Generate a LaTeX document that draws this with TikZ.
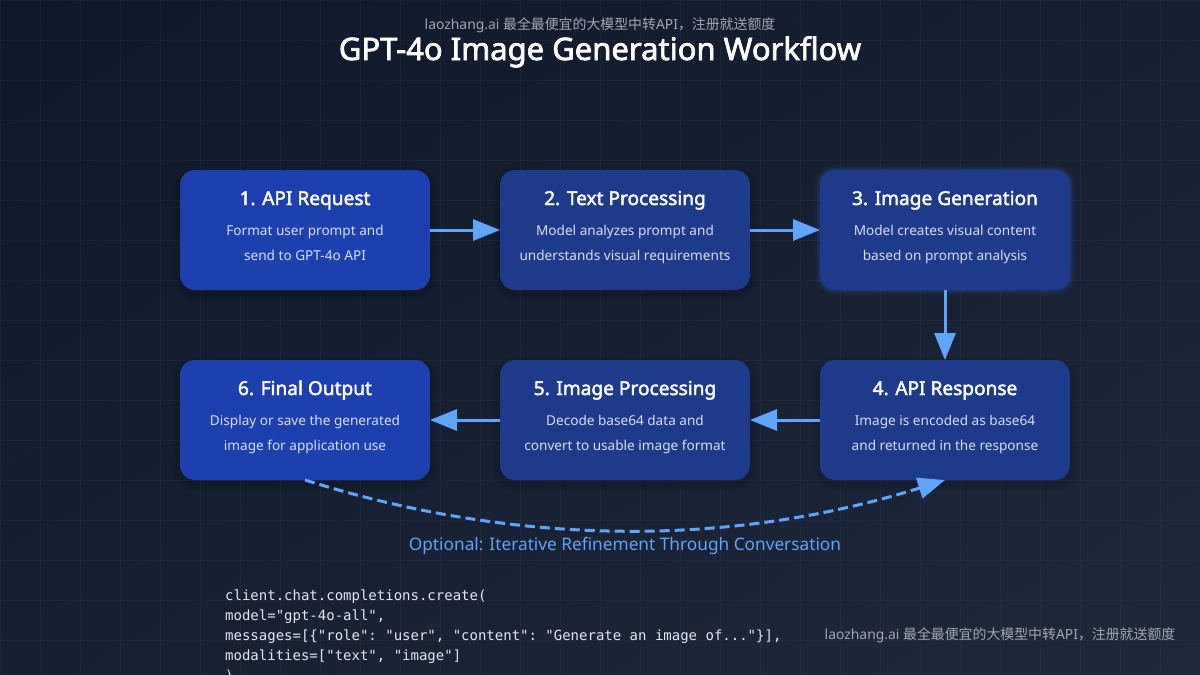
\documentclass[tikz,border=0pt]{standalone}
\usepackage{fontspec}
\setmainfont{Noto Sans}
\setmonofont{DejaVu Sans Mono}
\newfontfamily\cjk{Noto Sans CJK SC}
\newfontfamily\headfont{Noto Sans}[FakeBold=2.2]
\usetikzlibrary{arrows.meta,shadings}
\definecolor{bgdark}{HTML}{0F172A}
\definecolor{bgmid}{HTML}{172033}
\definecolor{bglight}{HTML}{1E293B}
\definecolor{stepbright}{HTML}{1E40AF}
\definecolor{stepdeep}{HTML}{1E3A8A}
\definecolor{flowblue}{HTML}{60A5FA}
\definecolor{glowblue}{HTML}{3B82F6}
\definecolor{desctext}{HTML}{D6E0F2}
\definecolor{codetext}{HTML}{E2E8F0}
\definecolor{greytext}{HTML}{A3A9B3}
\newcommand{\promotext}{laozhang.ai {\cjk 最全最便宜的大模型中转}API{\cjk ，注册就送额度}}
\tikzset{
	softshadow/.style={
		preaction={draw=black,opacity=.05,line width=14pt,transform canvas={yshift=-4pt}},
		preaction={draw=black,opacity=.05,line width=9pt,transform canvas={yshift=-4pt}},
		preaction={draw=black,opacity=.06,line width=4pt,transform canvas={yshift=-4pt}}},
	softglow/.style={
		preaction={draw=glowblue,opacity=.04,line width=11pt},
		preaction={draw=glowblue,opacity=.06,line width=7pt},
		preaction={draw=glowblue,opacity=.10,line width=3pt}},
	stepbox/.style={rectangle,rounded corners=15pt,minimum width=250pt,minimum height=120pt,inner sep=0pt,outer sep=0pt},
	steptitle/.style={anchor=base,text=white,font=\fontsize{19.1}{24}\headfont},
	stepdesc/.style={anchor=base,text=desctext,font=\fontsize{13.6}{16}\selectfont},
	flow/.style={draw=flowblue,line width=3pt,-{Triangle[length=27pt,width=21pt]}},
	promo/.style={text=greytext,font=\fontsize{13.9}{16}\selectfont},
	codeline/.style={anchor=base west,inner sep=0pt,text=codetext,font=\fontsize{14}{20}\ttfamily}
}
\begin{document}
\begin{tikzpicture}[x=1pt,y=-1pt]
	\useasboundingbox (0,0) rectangle (1200,675);
	\clip (0,0) rectangle (1200,675);
	\shade [upper left=bgdark,upper right=bgmid,lower left=bgmid,lower right=bglight] (0,0) rectangle (1200,675);
	\draw [white,opacity=.03,line width=1pt,step=40pt] (0,0) grid (1200,675);

	\node [promo] (topnote) at (600,25) {\promotext};
	\node [anchor=base,text=white,font=\fontsize{31}{36}\headfont] (maintitle) at (600,60) {GPT-4o Image Generation Workflow};

	\node [stepbox,softshadow,fill=stepbright] (request) at (305,230) {};
	\node [stepbox,softshadow,fill=stepdeep] (textproc) at (625,230) {};
	\node [stepbox,softglow,fill=stepdeep] (imagegen) at (945,230) {};
	\node [stepbox,softshadow,fill=stepdeep] (response) at (945,420) {};
	\node [stepbox,softshadow,fill=stepdeep] (imageproc) at (625,420) {};
	\node [stepbox,softshadow,fill=stepbright] (output) at (305,420) {};

	\node [steptitle] (requesttitle) at (305,205) {1. API Request};
	\node [stepdesc] (requestone) at (305,235) {Format user prompt and};
	\node [stepdesc] (requesttwo) at (305,260) {send to GPT-4o API};
	\node [steptitle] (textproctitle) at (625,205) {2. Text Processing};
	\node [stepdesc] (textprocone) at (625,235) {Model analyzes prompt and};
	\node [stepdesc] (textproctwo) at (625,260) {understands visual requirements};
	\node [steptitle] (imagegentitle) at (945,205) {3. Image Generation};
	\node [stepdesc] (imagegenone) at (945,235) {Model creates visual content};
	\node [stepdesc] (imagegentwo) at (945,260) {based on prompt analysis};
	\node [steptitle] (responsetitle) at (945,395) {4. API Response};
	\node [stepdesc] (responseone) at (945,425) {Image is encoded as base64};
	\node [stepdesc] (responsetwo) at (945,450) {and returned in the response};
	\node [steptitle] (imageproctitle) at (625,395) {5. Image Processing};
	\node [stepdesc] (imageprocone) at (625,425) {Decode base64 data and};
	\node [stepdesc] (imageproctwo) at (625,450) {convert to usable image format};
	\node [steptitle] (outputtitle) at (305,395) {6. Final Output};
	\node [stepdesc] (outputone) at (305,425) {Display or save the generated};
	\node [stepdesc] (outputtwo) at (305,450) {image for application use};

	\draw [flow] (request.east) -- (textproc.west);
	\draw [flow] (textproc.east) -- (imagegen.west);
	\draw [flow] (imagegen.south) -- (response.north);
	\draw [flow] (response.west) -- (imageproc.east);
	\draw [flow] (imageproc.west) -- (output.east);
	\draw [flow,dash pattern=on 10pt off 5pt] (output.south) .. controls (518,547) and (732,547) .. (response.south);

	\node [anchor=base,text=flowblue,font=\fontsize{17.25}{20}\selectfont] (refine) at (625,550) {Optional: Iterative Refinement Through Conversation};

	\node [codeline] (codeone) at (225,600) {client.chat.completions.create(};
	\node [codeline] (codetwo) at (225,620) {model="gpt-4o-all",};
	\node [codeline] (codethree) at (225,640) {messages=[\{"role": "user", "content": "Generate an image of..."\}],};
	\node [codeline] (codefour) at (225,660) {modalities=["text", "image"]};
	\node [codeline] (codefive) at (225,680) {)};
	\node [promo] (sidenote) at (1000,635) {\promotext};
\end{tikzpicture}
\end{document}
